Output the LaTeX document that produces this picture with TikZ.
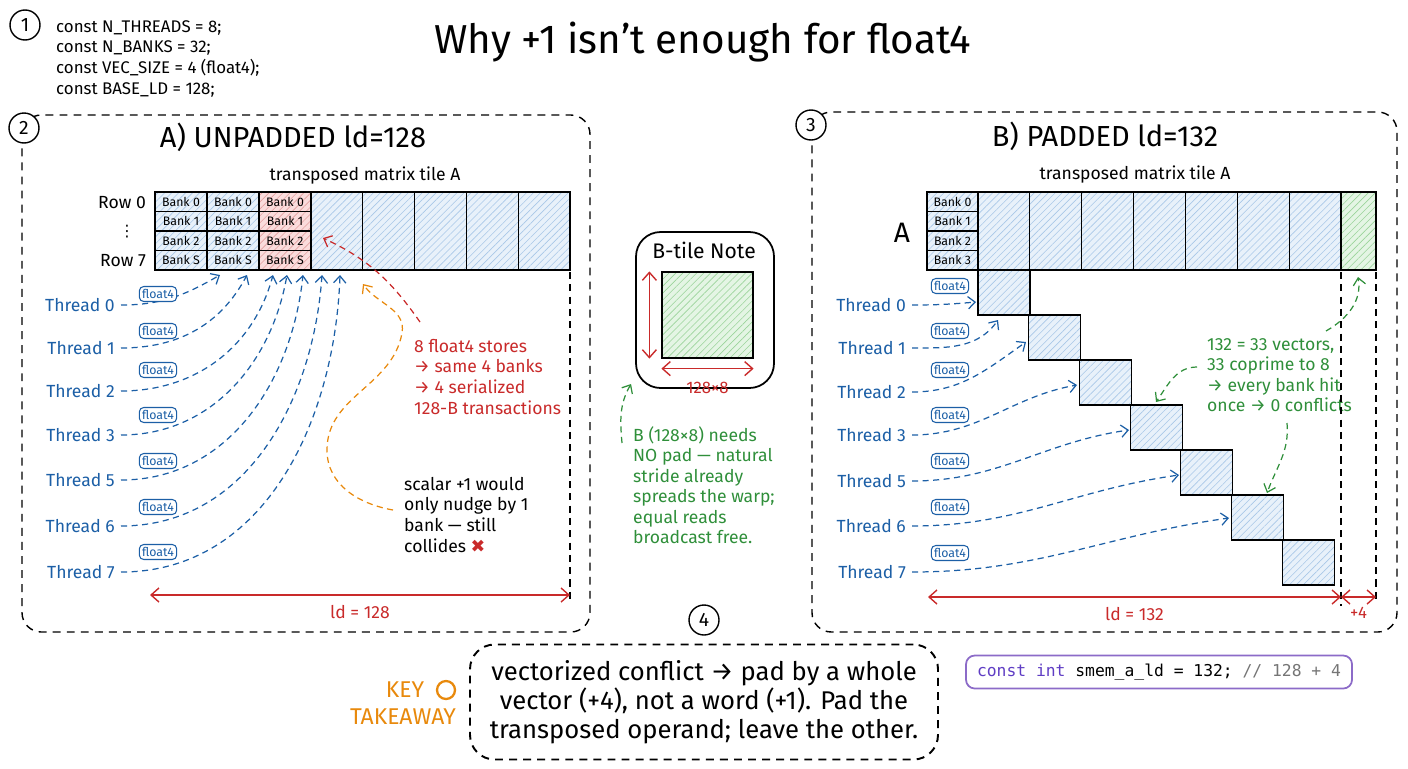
\documentclass[tikz,border=0pt]{standalone}
\usepackage{fontspec}
\setmainfont{Fira Sans}
\newfontfamily\codefont{DejaVu Sans Mono}
\newfontfamily\symfont{DejaVu Sans}
\usetikzlibrary{arrows.meta}
\usetikzlibrary{patterns.meta}
\usetikzlibrary{calc}

\definecolor{inkblue}{HTML}{1C5FA6}
\definecolor{inkred}{HTML}{C92A2A}
\definecolor{inkgreen}{HTML}{2F8F3A}
\definecolor{inkorange}{HTML}{E8890C}
\definecolor{inkpurple}{HTML}{8C6BC8}
\definecolor{codepurple}{HTML}{5F3DC4}
\definecolor{codegray}{HTML}{757575}
\definecolor{bluefill}{HTML}{E8F1FA}
\definecolor{bluehatch}{HTML}{A9C8E8}
\definecolor{redfill}{HTML}{FADCDC}
\definecolor{redhatch}{HTML}{E3A0A0}
\definecolor{greenfill}{HTML}{E4F5E4}
\definecolor{greenhatch}{HTML}{9BD49B}

\newcommand{\pxu}{0.02cm}

\tikzset{
	panel/.style={draw, line width=0.8pt, dash pattern=on 4.5pt off 3.5pt, rounded corners=11pt},
	stepnum/.style={draw, circle, line width=0.8pt, fill=white, minimum size=30*\pxu, inner sep=0pt, font=\fontsize{11}{11}\selectfont},
	bankcell/.style={draw, line width=0.7pt, inner sep=0pt, minimum width=52*\pxu, minimum height=19.5*\pxu,
		font=\fontsize{7}{7}\selectfont, preaction={fill=#1fill},
		pattern={Lines[angle=45,distance=2.8pt,line width=0.35pt]}, pattern color=#1hatch},
	bigcell/.style={bankcell=#1, minimum height=78*\pxu},
	thread/.style={text=inkblue, anchor=east, font=\fontsize{10}{10}\selectfont},
	vectag/.style={draw=inkblue, text=inkblue, fill=white, rounded corners=2.5pt, line width=0.6pt, inner sep=1.6pt, font=\fontsize{7}{7}\selectfont},
	threadarrow/.style={draw=inkblue, line width=0.7pt, dash pattern=on 3.5pt off 2.5pt, -{Straight Barb[length=4pt,width=7pt]}},
	notearrow/.style={draw=#1, line width=0.7pt, dash pattern=on 3.5pt off 2.5pt, -{Straight Barb[length=4pt,width=7pt]}},
	note/.style={anchor=north west, align=left, font=\fontsize{10}{11.7}\selectfont},
	dimarrow/.style={draw=inkred, line width=0.8pt, {Straight Barb[length=4.5pt,width=8pt]}-{Straight Barb[length=4.5pt,width=8pt]}},
	markline/.style={draw, line width=0.7pt, dash pattern=on 4pt off 3pt},
	heading/.style={font=\fontsize{16.5}{16.5}\selectfont},
	subhead/.style={font=\fontsize{10}{10}\selectfont},
}

\begin{document}
\begin{tikzpicture}[x=\pxu, y=\pxu]
	\useasboundingbox (0,0) rectangle (1408,-768);

	% header
	\node[stepnum] (s1) at (25,-25) {1};
	\node[anchor=north west, align=left, font=\fontsize{9.6}{11.9}\selectfont] (consts) at (50,-14)
		{const N\_THREADS = 8;\\ const N\_BANKS = 32;\\ const VEC\_SIZE = 4 (float4);\\ const BASE\_LD = 128;};
	\node[font=\fontsize{23}{26}\selectfont] (title) at (703,-42) {Why +1 isn't enough for float4};

	% A) unpadded
	\draw[panel] (22,-115) rectangle (590,-632);
	\node[stepnum] (s2) at (24,-128) {2};
	\node[heading] (headA) at (293,-137) {A) UNPADDED ld=128};
	\node[subhead] (tileA) at (365,-176) {transposed matrix tile A};
	\foreach \c in {0,1}
		\foreach \r/\b in {0/0,1/1,2/2,3/S}
			\node[bankcell=blue] (ka\c\r) at ({181+52*\c},{-201.75-19.5*\r}) {Bank \b};
	\foreach \r/\b in {0/0,1/1,2/2,3/S}
		\node[bankcell=red] (ka2\r) at (285,{-201.75-19.5*\r}) {Bank \b};
	\foreach \i in {0,...,4}
		\node[bigcell=blue, minimum width=51.8*\pxu] (ca\i) at ({336.9+51.8*\i},-231) {};
	\node[subhead, anchor=east, inner sep=1pt] (row0) at (148,-203) {Row 0};
	\node[inner sep=0pt, font=\symfont\fontsize{9}{9}\selectfont] (rowdots) at (127,-232) {⋮};
	\node[subhead, anchor=east, inner sep=1pt] (row7) at (148,-261) {Row 7};

	\foreach \n/\yy/\ty/\hx/\ang in {0/305/294/220/-150, 1/348/331/247/-118, 2/391/370/273/-105, 3/435/415/287/-100, 5/480/461/303/-96, 6/526/507/322/-94, 7/572/552/340/-92}{
		\node[thread] (ta\n) at (121,-\yy) {Thread \n};
		\coordinate (ha\n) at (\hx,-275);
		\draw[threadarrow] (ta\n.east) to[out=0,in=\ang] (ha\n);
		\node[vectag] (va\n) at (158,-\ty) {float4};
	}

	\node[note, text=inkred] (rednote) at (408,-333) {8 float4 stores\\ → same 4 banks\\ → 4 serialized\\ 128-B transactions};
	\coordinate (redtail) at (420,-322);
	\coordinate (redhit) at (323,-238);
	\draw[notearrow=inkred] (redtail) to[out=125,in=-25] (redhit);

	\node[note] (scalarnote) at (398,-471) {scalar +1 would\\ only nudge by 1\\ bank — still\\ collides {\symfont\color{inkred}✖}};
	\coordinate (scalartail) at (393,-510);
	\coordinate (scalarhit) at (363,-284);
	\draw[notearrow=inkorange] (scalartail) to[out=170,in=-90] (327,-450) to[out=90,in=-100] (402,-333) to[out=80,in=-55] (scalarhit);

	\draw[markline] (570,-272) -- (570,-603);
	\coordinate (ldAl) at (150,-595);
	\coordinate (ldAr) at (570,-595);
	\draw[dimarrow] (ldAl) -- (ldAr) node[midway, below=2pt, text=inkred, font=\fontsize{10}{10}\selectfont] {ld = 128};

	% B-tile note
	\node[draw, line width=1pt, rounded corners=14pt, minimum width=138*\pxu, minimum height=156*\pxu] (bnote) at (705,-310) {};
	\node[font=\fontsize{12}{12}\selectfont] (btitle) at (704,-250) {B-tile Note};
	\node[bigcell=green, minimum width=91*\pxu, minimum height=86*\pxu] (btile) at (707.5,-315) {};
	\draw[dimarrow] ([xshift=-12*\pxu]btile.north west) -- ([xshift=-12*\pxu]btile.south west);
	\draw[dimarrow] ([yshift=-10*\pxu]btile.south west) -- ([yshift=-10*\pxu]btile.south east)
		node[midway, below=4pt, text=inkred, font=\fontsize{9.5}{9.5}\selectfont] {128×8};
	\node[note, text=inkgreen] (bnotetext) at (627,-420) {B (128×8) needs\\ NO pad — natural\\ stride already\\ spreads the warp;\\ equal reads\\ broadcast free.};
	\coordinate (btail) at (622,-443);
	\coordinate (bhit) at (631,-384);
	\draw[notearrow=inkgreen] (btail) to[out=95,in=-120] (bhit);

	% B) padded
	\draw[panel] (812,-112) rectangle (1397,-632);
	\node[stepnum] (s3) at (811,-125) {3};
	\node[heading] (headB) at (1105,-136) {B) PADDED ld=132};
	\node[subhead] (tileB) at (1135,-175) {transposed matrix tile A};
	\node[font=\fontsize{16}{16}\selectfont] (matA) at (902,-233) {A};
	\foreach \r/\b in {0/0,1/1,2/2,3/3}
		\node[bankcell=blue, minimum width=51*\pxu] (kb\r) at (952.5,{-201.75-19.5*\r}) {Bank \b};
	\foreach \i in {0,...,6}
		\node[bigcell=blue, minimum width=51.86*\pxu] (cb\i) at ({1003.9+51.86*\i},-231) {};
	\node[bigcell=green, minimum width=35*\pxu] (padcell) at (1358.5,-231) {};
	\foreach \i in {0,...,6}
		\node[bigcell=blue, minimum width=52*\pxu, minimum height=45*\pxu] (q\i) at ({1004+50.7*\i},{-292.5-45*\i}) {};

	\foreach \n/\yy/\ty/\gx/\gy/\ang in {0/305/286/976/302/185, 1/348/331/998/320/235, 2/392/370/1026/342/215, 3/435/415/1077/385/190, 5/481/461/1129/430/188, 6/526/507/1179/475/188, 7/572/553/1229/518/188}{
		\node[thread] (tb\n) at (912,-\yy) {Thread \n};
		\coordinate (hb\n) at (\gx,-\gy);
		\draw[threadarrow] (tb\n.east) to[out=0,in=\ang] (hb\n);
		\node[vectag] (vb\n) at (950,-\ty) {float4};
	}

	\node[note, text=inkgreen] (coprime) at (1201,-332) {132 = 33 vectors,\\ 33 coprime to 8\\ → every bank hit\\ once → 0 conflicts};
	\coordinate (cptail) at (1326,-331);
	\coordinate (cphit) at (1358,-277);
	\draw[notearrow=inkgreen] (cptail) to[out=30,in=-80] (cphit);
	\coordinate (cpleft) at (1197,-367);
	\coordinate (cpdiag) at (1156,-402);
	\draw[notearrow=inkgreen] (cpleft) to[out=180,in=55] (cpdiag);
	\coordinate (cpbelow) at (1287,-423);
	\coordinate (cplow) at (1267,-493);
	\draw[notearrow=inkgreen] (cpbelow) to[out=-85,in=70] (cplow);

	\draw[markline] (1341,-272) -- (1341,-606);
	\draw[markline] (1376,-272) -- (1376,-602);
	\coordinate (ldBl) at (928,-597);
	\coordinate (ldBm) at (1341,-597);
	\coordinate (ldBr) at (1376,-597);
	\draw[dimarrow] (ldBl) -- (ldBm) node[midway, below=2pt, text=inkred, font=\fontsize{10}{10}\selectfont] {ld = 132};
	\draw[dimarrow] (ldBm) -- (ldBr) node[midway, below=2pt, text=inkred, font=\fontsize{9.5}{9.5}\selectfont] {+4};

	% takeaway
	\node[stepnum] (s4) at (704,-620) {4};
	\node[panel, line width=1.1pt, rounded corners=14pt, minimum width=468*\pxu, minimum height=115*\pxu, align=center,
		font=\fontsize{14.6}{16.5}\selectfont] (takeaway) at (704,-702)
		{vectorized conflict → pad by a whole\\ vector (+4), not a word (+1). Pad the\\ transposed operand; leave the other.};
	\node[text=inkorange, font=\fontsize{13}{13}\selectfont] (keyword) at (405,-690) {KEY};
	\node[circle, draw=inkorange, line width=1.3pt, minimum size=18*\pxu, inner sep=0pt] (keyring) at (446,-690) {};
	\node[text=inkorange, font=\fontsize{13}{13}\selectfont] (keytake) at (403,-717) {TAKEAWAY};
	\node[draw=inkpurple, line width=1pt, rounded corners=5pt, fill=white, minimum width=386*\pxu, minimum height=33*\pxu,
		font=\codefont\fontsize{9.3}{9.3}\selectfont] (ldcode) at (1159,-672)
		{\textcolor{codepurple}{const int} smem\_a\_ld = 132; \textcolor{codegray}{// 128 + 4}};
\end{tikzpicture}
\end{document}
